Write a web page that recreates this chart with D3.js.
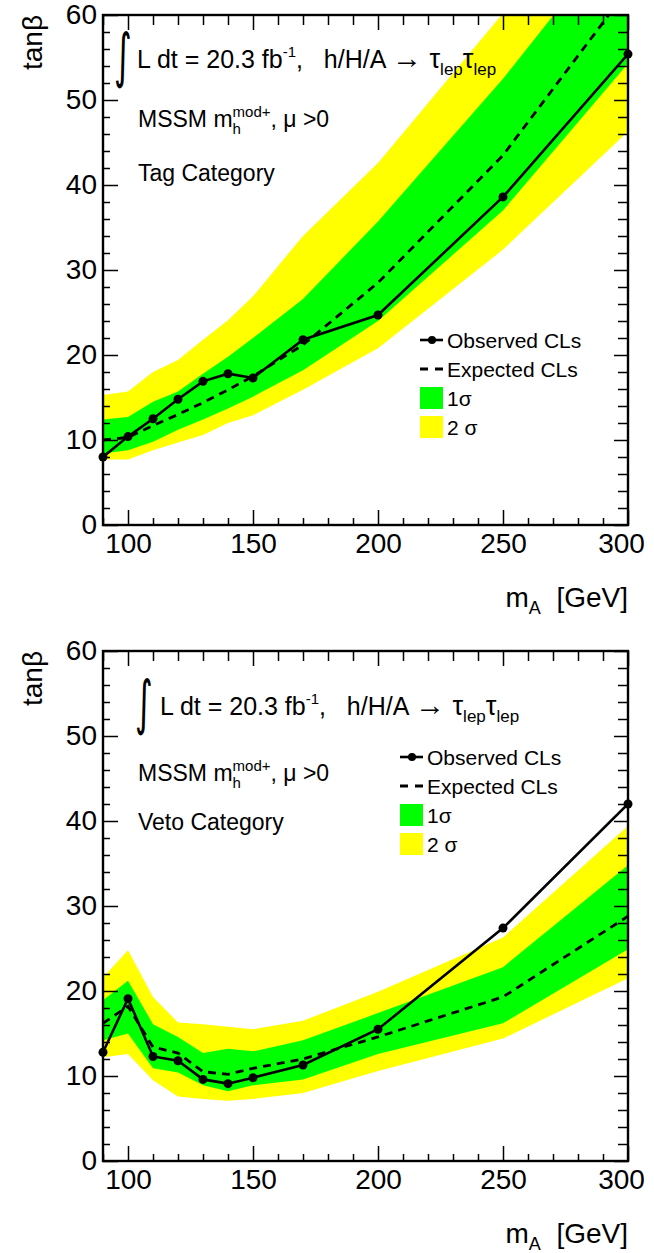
<!doctype html>
<html lang=en>
<head>
<meta charset="utf-8">
<title>tanb limits</title>
<script src="https://cdn.jsdelivr.net/npm/d3@7"></script>
<style>
body { margin: 0; background: white; }
svg text { font-family: "Liberation Sans", Arial, sans-serif; fill: black; }
</style>
</head>
<body>
<div id=chart></div>
<script>

// mass points (GeV)
var massPoints = [90, 100, 110, 120, 130, 140, 150, 170, 200, 250, 300];

// tag category
var tagObserved     = [8.0, 10.4, 12.5, 14.8, 16.9, 17.8, 17.3, 21.8, 24.7, 38.6, 55.4];
var tagExpected     = [10.0, 10.3, 11.7, 13.0, 14.4, 15.9, 17.5, 21.2, 28.5, 43.5, 63.0];
var tagOneSigmaLow  = [8.4, 8.8, 9.8, 11.2, 12.4, 13.7, 15.1, 18.2, 24.0, 37.0, 54.3];
var tagOneSigmaHigh = [12.4, 12.7, 14.5, 15.7, 17.8, 19.8, 22.0, 26.6, 35.7, 52.5, 71.0];
var tagTwoSigmaLow  = [7.7, 7.7, 8.8, 9.7, 10.6, 12.0, 12.9, 15.9, 20.8, 32.4, 46.3];
var tagTwoSigmaHigh = [15.3, 15.7, 18.0, 19.4, 21.8, 24.1, 26.9, 34.0, 42.6, 60.2, 78.0];

// veto category
var vetoObserved     = [12.8, 19.1, 12.3, 11.8, 9.6, 9.1, 9.8, 11.3, 15.5, 27.4, 42.0];
var vetoExpected     = [16.2, 18.2, 13.4, 12.7, 10.5, 10.2, 10.9, 12.0, 14.6, 19.3, 28.8];
var vetoOneSigmaLow  = [14.2, 15.0, 10.9, 10.4, 8.9, 8.2, 8.9, 9.6, 12.6, 16.2, 24.9];
var vetoOneSigmaHigh = [18.9, 21.2, 16.1, 14.6, 12.7, 13.2, 12.9, 14.2, 17.4, 22.8, 34.8];
var vetoTwoSigmaLow  = [12.2, 12.6, 9.5, 7.6, 7.3, 7.1, 7.3, 8.0, 10.6, 14.4, 21.5];
var vetoTwoSigmaHigh = [21.6, 24.8, 19.3, 16.3, 16.1, 15.8, 15.5, 16.5, 19.9, 26.3, 39.4];

// axes
var xDomain = [90, 300];
var yDomain = [0, 60];
var xMajorTicks = [100, 150, 200, 250, 300];
var xMinorTicks = d3.range(90, 301, 10).filter(v => v % 50 != 0);
var yMajorTicks = [0, 10, 20, 30, 40, 50, 60];
var yMinorTicks = d3.range(0, 61, 2).filter(v => v % 10 != 0);

var legendLabels = ["Observed CL", "Expected CL", "1\u03c3", "2 \u03c3"];

var W = 654, H = 1253;
var svg = d3.select("#chart").append("svg")
    .attr("width", W).attr("height", H);

var plotW = 525, plotH = 510;

var panels = [
  { name: "Tag Category", left: 103, top: 15,
    obs: tagObserved, exp: tagExpected,
    s1lo: tagOneSigmaLow, s1hi: tagOneSigmaHigh,
    s2lo: tagTwoSigmaLow, s2hi: tagTwoSigmaHigh,
    lumiX: 34, lumiY: 53, intX: 11, mssmY: 112, catY: 166,
    legX: 317, legY: 325 },
  { name: "Veto Category", left: 103, top: 651,
    obs: vetoObserved, exp: vetoExpected,
    s1lo: vetoOneSigmaLow, s1hi: vetoOneSigmaHigh,
    s2lo: vetoTwoSigmaLow, s2hi: vetoTwoSigmaHigh,
    lumiX: 57, lumiY: 64, intX: 32, mssmY: 130, catY: 179,
    legX: 297, legY: 106 }
];

panels.forEach(function(p, i) {
  var g = svg.append("g").attr("transform", "translate(" + p.left + "," + p.top + ")");

  var x = d3.scaleLinear().domain(xDomain).range([0, plotW]);
  var y = d3.scaleLinear().domain(yDomain).range([plotH, 0]);

  var rows = massPoints.map((m, j) => ({m: m, obs: p.obs[j], exp: p.exp[j],
      s1lo: p.s1lo[j], s1hi: p.s1hi[j], s2lo: p.s2lo[j], s2hi: p.s2hi[j]}));

  g.append("clipPath").attr("id", "clip" + i)
    .append("rect").attr("width", plotW).attr("height", plotH);

  var data = g.append("g").attr("clip-path", "url(#clip" + i + ")");

  var band2 = d3.area().x(d => x(d.m)).y0(d => y(d.s2lo)).y1(d => y(d.s2hi));
  var band1 = d3.area().x(d => x(d.m)).y0(d => y(d.s1lo)).y1(d => y(d.s1hi));
  data.append("path").datum(rows).attr("d", band2).attr("fill", "#ffff00");
  data.append("path").datum(rows).attr("d", band1).attr("fill", "#00ff00");

  var lineExp = d3.line().x(d => x(d.m)).y(d => y(d.exp));
  var lineObs = d3.line().x(d => x(d.m)).y(d => y(d.obs));
  data.append("path").datum(rows).attr("d", lineExp)
    .attr("fill", "none").attr("stroke", "black").attr("stroke-width", 2.8)
    .attr("stroke-dasharray", "8,6");
  data.append("path").datum(rows).attr("d", lineObs)
    .attr("fill", "none").attr("stroke", "black").attr("stroke-width", 2.6);

  g.selectAll(".pt").data(rows).enter().append("circle")
    .attr("cx", d => x(d.m)).attr("cy", d => y(d.obs))
    .attr("r", 4.5).attr("fill", "black");

  // axes, ticks pointing inward like ROOT
  function styleAxis(sel) {
    sel.select(".domain").remove();
    sel.selectAll("line").attr("stroke", "black").attr("stroke-width", 1.5);
  }
  var gxb = g.append("g").attr("transform", "translate(0," + plotH + ")")
    .call(d3.axisBottom(x).tickValues(xMajorTicks).tickSize(-15).tickPadding(8).tickSizeOuter(0));
  gxb.selectAll("text").attr("font-size", 28);
  gxb.selectAll("text").filter(d => d == 300).attr("dx", -7);
  styleAxis(gxb);
  g.append("g").attr("transform", "translate(0," + plotH + ")")
    .call(d3.axisBottom(x).tickValues(xMinorTicks).tickSize(-7).tickFormat("").tickSizeOuter(0))
    .call(styleAxis);
  g.append("g").call(d3.axisTop(x).tickValues(xMajorTicks).tickSize(-15).tickFormat("").tickSizeOuter(0))
    .call(styleAxis);
  g.append("g").call(d3.axisTop(x).tickValues(xMinorTicks).tickSize(-10).tickFormat("").tickSizeOuter(0))
    .call(styleAxis);

  var gyl = g.append("g")
    .call(d3.axisLeft(y).tickValues(yMajorTicks).tickSize(-15).tickPadding(6).tickSizeOuter(0));
  gyl.selectAll("text").attr("font-size", 28);
  styleAxis(gyl);
  g.append("g").call(d3.axisLeft(y).tickValues(yMinorTicks).tickSize(-7).tickFormat("").tickSizeOuter(0))
    .call(styleAxis);
  g.append("g").attr("transform", "translate(" + plotW + ",0)")
    .call(d3.axisRight(y).tickValues(yMajorTicks).tickSize(-14).tickFormat("").tickSizeOuter(0))
    .call(styleAxis);
  g.append("g").attr("transform", "translate(" + plotW + ",0)")
    .call(d3.axisRight(y).tickValues(yMinorTicks).tickSize(-10).tickFormat("").tickSizeOuter(0))
    .call(styleAxis);

  g.append("rect").attr("width", plotW).attr("height", plotH)
    .attr("fill", "none").attr("stroke", "black").attr("stroke-width", 2.4);

  // axis titles
  g.append("text").attr("transform", "translate(-61,0) rotate(-90)")
    .attr("text-anchor", "end").attr("font-size", 28).text("tan\u03b2");
  var xt = g.append("text").attr("x", plotW).attr("y", plotH + 82)
    .attr("text-anchor", "end").attr("font-size", 28);
  xt.append("tspan").text("m");
  xt.append("tspan").attr("font-size", 18).attr("dy", 7).text("A");
  xt.append("tspan").attr("dy", -7).text("  [GeV]").attr("xml:space", "preserve");

  // luminosity / process label
  var iy = p.lumiY + 8;
  g.append("text").attr("x", p.intX).attr("y", iy)
    .attr("font-size", 34)
    .attr("transform", "translate(" + p.intX + "," + iy + ") scale(1,1.75) translate(" + (-p.intX) + "," + (-iy) + ")")
    .style("font-family", "DejaVu Sans")
    .text("\u222b");
  var lt = g.append("text").attr("x", p.lumiX).attr("y", p.lumiY)
    .attr("font-size", 25).attr("xml:space", "preserve");
  lt.append("tspan").text("L dt = 20.3 fb");
  lt.append("tspan").attr("font-size", 15).attr("dy", -11).text("-1");
  lt.append("tspan").attr("dy", 11).text(",   h/H/A ");
  lt.append("tspan").attr("font-size", 30).text("\u2192");
  lt.append("tspan").attr("font-size", 27).text(" \u03c4");
  lt.append("tspan").attr("font-size", 17).attr("dy", 7).text("lep");
  lt.append("tspan").attr("font-size", 27).attr("dy", -7).text("\u03c4");
  lt.append("tspan").attr("font-size", 17).attr("dy", 7).text("lep");

  // model label with stacked sub/superscript
  var mt = g.append("text").attr("x", 35).attr("y", p.mssmY)
    .attr("font-size", 23).attr("xml:space", "preserve");
  mt.append("tspan").text("MSSM m");
  var sup = mt.append("tspan").attr("font-size", 15).attr("dy", -10).text("mod+");
  var supW = sup.node().getComputedTextLength();
  var sub = mt.append("tspan").attr("font-size", 15).attr("dx", -supW).attr("dy", 17).text("h");
  var subW = sub.node().getComputedTextLength();
  mt.append("tspan").attr("dx", supW - subW).attr("dy", -7).text(", \u03bc >0");

  g.append("text").attr("x", 35).attr("y", p.catY).attr("font-size", 23).text(p.name);

  // legend
  var lg = g.append("g").attr("transform", "translate(" + p.legX + "," + p.legY + ")");
  lg.append("line").attr("x1", 0).attr("x2", 23).attr("y1", 0).attr("y2", 0)
    .attr("stroke", "black").attr("stroke-width", 2.6);
  lg.append("circle").attr("cx", 12).attr("cy", 0).attr("r", 4);
  lg.append("line").attr("x1", 0).attr("x2", 23).attr("y1", 29).attr("y2", 29)
    .attr("stroke", "black").attr("stroke-width", 2.8).attr("stroke-dasharray", "8,7");
  lg.append("rect").attr("x", 0).attr("y", 47).attr("width", 23).attr("height", 22).attr("fill", "#00ff00");
  lg.append("rect").attr("x", 0).attr("y", 76).attr("width", 23).attr("height", 22).attr("fill", "#ffff00");
  var legY = [8, 37, 66, 95];
  legendLabels.forEach(function(t, k) {
    var tx = lg.append("text").attr("x", 27).attr("y", legY[k]).attr("font-size", 21);
    if (k < 2) {
      tx.append("tspan").text(t);
      tx.append("tspan").text("s");
    } else tx.text(t);
  });
});

</script>
</body>
</html>
